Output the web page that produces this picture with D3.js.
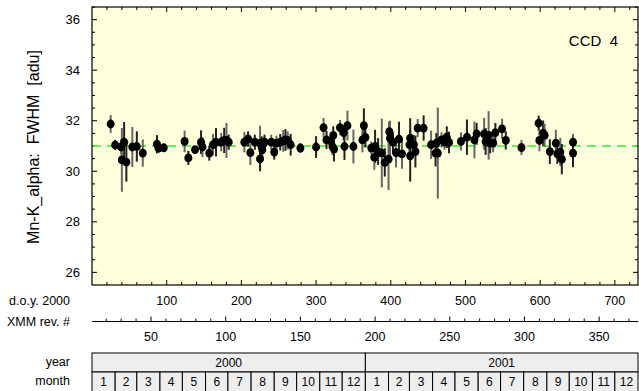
<!DOCTYPE html>
<html>
<head>
<meta charset="utf-8">
<script src="https://cdn.jsdelivr.net/npm/d3@7"></script>
<style>
  body { margin: 0; background: #fff; }
  svg { display: block; font-family: "Liberation Sans", Arial, sans-serif; }
  text { white-space: pre; }
</style>
</head>
<body>
<svg id="chart" width="639" height="391"></svg>
<script>
// day of year 2000, FWHM [adu], error
var doy = [25, 31, 39, 43, 40, 46, 54, 60, 68, 87, 89, 96, 124, 129, 138, 146, 148, 157, 162, 166,
  173, 177, 180, 183, 204, 209, 212, 218, 225, 227, 228, 225, 229, 231, 240, 244, 247, 252, 256, 259,
  262, 266, 279, 300, 310, 314, 320, 323, 322, 324, 332, 337, 342, 338, 350, 364, 362, 366, 374, 379,
  378, 383, 388, 392, 397, 398, 399, 403, 407, 411, 415, 426, 425, 426, 431, 433, 436, 444, 454, 460,
  463, 461, 468, 475, 472, 478, 494, 502, 512, 515, 525, 527, 531, 533, 537, 540, 549, 554, 575, 598,
  599, 604, 606, 613, 621, 623, 627, 629, 644, 644]
var fwhm = [31.87, 31.04, 30.96, 31.15, 30.45, 30.36, 30.96, 30.98, 30.72, 31.07, 30.92, 30.93, 31.18, 30.53, 30.86, 31.15, 30.96, 30.72, 31.05, 31.15,
  31.15, 31.22, 31.22, 31.15, 31.15, 31.28, 30.74, 31.15, 31.11, 30.98, 30.85, 30.49, 31.07, 31.15, 31.15, 30.76, 31.11, 31.15, 31.2, 31.24,
  31.22, 31.05, 30.92, 30.96, 31.73, 31.24, 31.18, 31.42, 30.98, 30.88, 31.73, 31.53, 31.81, 30.98, 30.98, 31.81, 31.24, 31.34, 30.92, 30.98,
  30.55, 30.78, 30.72, 30.35, 30.48, 31.57, 31.31, 31.15, 30.74, 31.27, 30.69, 31.31, 31.05, 30.61, 31.05, 30.78, 31.71, 31.71, 31.05, 30.72,
  30.72, 31.11, 31.24, 31.35, 31.15, 31.14, 31.18, 31.35, 31.24, 31.48, 31.48, 31.18, 31.42, 31.11, 31.11, 31.53, 31.68, 31.22, 30.94, 31.9,
  31.22, 31.51, 31.42, 30.78, 31.11, 30.69, 30.76, 30.48, 31.15, 30.72]
var fwhmErr = [0.35, 0.2, 0.3, 0.8, 1.26, 0.77, 0.79, 0.6, 0.54, 0.36, 0.2, 0.15, 0.43, 0.28, 0.15, 0.47, 0.4, 0.3, 0.43, 0.56,
  0.36, 0.5, 0.69, 0.3, 0.4, 0.3, 0.49, 0.3, 0.69, 0.4, 0.4, 0.49, 0.3, 0.3, 0.3, 0.3, 0.3, 0.33, 0.43, 0.43,
  0.36, 0.43, 0.2, 0.43, 0.38, 0.36, 0.3, 0.36, 0.35, 0.49, 0.3, 0.3, 0.59, 0.53, 0.67, 0.68, 0.49, 0.4, 0.26, 0.66,
  0.49, 0.53, 1.36, 0.56, 1.22, 0.4, 0.69, 0.4, 0.59, 0.69, 0.59, 0.79, 0.4, 1.02, 0.4, 0.63, 0.36, 0.5, 0.56, 0.53,
  1.8, 0.4, 0.3, 0.43, 0.3, 0.43, 0.36, 0.7, 0.73, 0.43, 0.63, 0.53, 0.96, 0.4, 0.36, 0.38, 0.4, 0.36, 0.3, 0.3,
  0.43, 0.5, 0.46, 0.49, 0.53, 0.4, 0.56, 0.6, 0.33, 0.56]
var meanFwhm = 31.0
var doyTicks = [100, 200, 300, 400, 500, 600, 700]
var revTicks = [50, 100, 150, 200, 250, 300, 350]
var years = [2000, 2001]
var ccdLabel = "CCD  4"

var svg = d3.select("#chart")
var L = 92, R = 638, T = 7, B = 285

var x = d3.scaleLinear().domain([0, 731]).range([L, R])
var y = d3.scaleLinear().domain([25.5, 36.5]).range([B, T])
// XMM revolution number against d.o.y.
var xr = d3.scaleLinear().domain([10.5, 376]).range([L, R])

svg.append("rect")
  .attr("x", L).attr("y", T).attr("width", R - L).attr("height", B - T)
  .attr("fill", "#ffffdd")

// ticks inside the frame
function ticks(vals, len, side) {
  svg.append("g").selectAll("line").data(vals).enter().append("line")
    .attr("x1", d => side == "b" || side == "t" ? x(d) : (side == "l" ? L : R))
    .attr("x2", d => side == "b" || side == "t" ? x(d) : (side == "l" ? L + len : R - len))
    .attr("y1", d => side == "b" ? B : side == "t" ? T : y(d))
    .attr("y2", d => side == "b" ? B - len : side == "t" ? T + len : y(d))
    .attr("stroke", "#000").attr("stroke-width", 1)
}
ticks(d3.range(20, 731, 20).filter(d => d % 100), 3, "b")
ticks(d3.range(20, 731, 20).filter(d => d % 100), 3, "t")
ticks(doyTicks, 5, "b")
ticks(doyTicks, 5, "t")
ticks(d3.range(26, 36.6, 0.5).filter(d => d % 2), 3, "l")
ticks(d3.range(26, 36.6, 0.5).filter(d => d % 2), 3, "r")
ticks(d3.range(26, 36.6, 2), 5, "l")
ticks(d3.range(26, 36.6, 2), 5, "r")

// mean line
svg.append("line")
  .attr("x1", L).attr("x2", R).attr("y1", y(meanFwhm)).attr("y2", y(meanFwhm))
  .attr("stroke", "#33ee33").attr("stroke-width", 1.5).attr("stroke-dasharray", "9,6")

var pts = doy.map((d, i) => ({ d: d, v: fwhm[i], e: fwhmErr[i] }))

svg.append("g").selectAll("line").data(pts).enter().append("line")
  .attr("x1", d => x(d.d)).attr("x2", d => x(d.d))
  .attr("y1", d => y(d.v - d.e)).attr("y2", d => y(d.v + d.e))
  .attr("stroke", (d, i) => i % 2 ? "#222" : "#666").attr("stroke-width", 2)

svg.append("g").selectAll("ellipse").data(pts).enter().append("ellipse")
  .attr("cx", d => x(d.d)).attr("cy", d => y(d.v))
  .attr("rx", 4).attr("ry", 4.4)
  .attr("fill", "#000")

svg.append("rect")
  .attr("x", L).attr("y", T).attr("width", R - L).attr("height", B - T)
  .attr("fill", "none").attr("stroke", "#000").attr("stroke-width", 1.2)

svg.append("text").attr("x", 618).attr("y", 46).attr("text-anchor", "end")
  .attr("font-size", 15).text(ccdLabel)

// y axis labels
svg.append("g").selectAll("text").data(d3.range(26, 36.6, 2)).enter().append("text")
  .attr("x", 80).attr("y", d => y(d) + 4.5).attr("text-anchor", "end")
  .attr("font-size", 13).text(d => d)

svg.append("text")
  .attr("transform", "translate(39,147) rotate(-90)")
  .attr("text-anchor", "middle").attr("font-size", 16)
  .text("Mn-K_alpha:  FWHM  [adu]")

// d.o.y. labels
svg.append("g").selectAll("text").data(doyTicks).enter().append("text")
  .attr("x", d => x(d)).attr("y", 305).attr("text-anchor", "middle")
  .attr("font-size", 12.5).text(d => d)

// XMM revolution axis
var revY = 321.5
svg.append("line").attr("x1", L).attr("x2", R).attr("y1", revY).attr("y2", revY)
  .attr("stroke", "#000")
svg.append("g").selectAll("line").data(d3.range(20, 376, 10)).enter().append("line")
  .attr("x1", d => xr(d)).attr("x2", d => xr(d))
  .attr("y1", revY).attr("y2", d => d % 50 ? revY - 3 : revY - 5)
  .attr("stroke", "#000")
svg.append("g").selectAll("text").data(revTicks).enter().append("text")
  .attr("x", d => xr(d)).attr("y", 341).attr("text-anchor", "middle")
  .attr("font-size", 12.5).text(d => d)

// year / month boxes
var t0 = new Date(2000, 0, 1)
function dayOf(dt) { return Math.round((dt - t0) / 864e5) }
var yTop = 353, yMid = 372, yBot = 392

svg.append("g").selectAll("rect").data(years).enter().append("rect")
  .attr("x", d => x(dayOf(new Date(d, 0, 1))))
  .attr("width", d => x(dayOf(new Date(d + 1, 0, 1))) - x(dayOf(new Date(d, 0, 1))))
  .attr("y", yTop).attr("height", yMid - yTop)
  .attr("fill", "#eeeeee").attr("stroke", "#000")
svg.append("g").selectAll("text").data(years).enter().append("text")
  .attr("x", d => (x(dayOf(new Date(d, 0, 1))) + x(dayOf(new Date(d + 1, 0, 1)))) / 2)
  .attr("y", yMid - 5).attr("text-anchor", "middle").attr("font-size", 12).text(d => d)

var months = d3.timeMonths(new Date(2000, 0, 1), new Date(2002, 0, 1))
svg.append("g").selectAll("rect").data(months).enter().append("rect")
  .attr("x", d => x(dayOf(d)))
  .attr("width", d => x(dayOf(d3.timeMonth.offset(d, 1))) - x(dayOf(d)))
  .attr("y", yMid).attr("height", yBot - yMid)
  .attr("fill", "#eeeeee").attr("stroke", "#000")
svg.append("g").selectAll("text").data(months).enter().append("text")
  .attr("x", d => (x(dayOf(d)) + x(dayOf(d3.timeMonth.offset(d, 1)))) / 2)
  .attr("y", yBot - 6).attr("text-anchor", "middle").attr("font-size", 12)
  .text(d => d.getMonth() + 1)

// row labels
var rowLabels = [["d.o.y. 2000", 305], ["XMM rev. #", 326], ["year", 366], ["month", 385]]
svg.append("g").selectAll("text").data(rowLabels).enter().append("text")
  .attr("x", 70).attr("y", d => d[1]).attr("text-anchor", "end")
  .attr("font-size", 12.5).text(d => d[0])
</script>
</body>
</html>
